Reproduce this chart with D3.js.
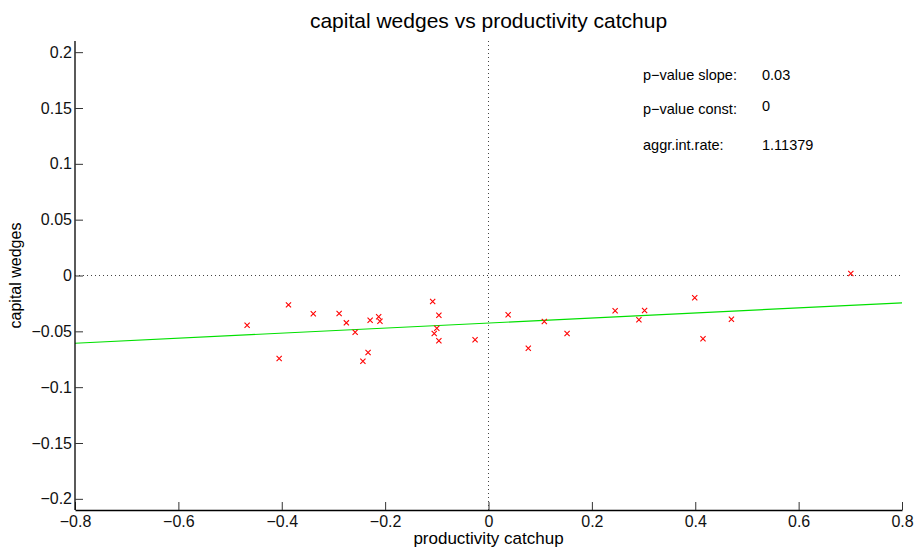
<!DOCTYPE html>
<html>
<head>
<meta charset="utf-8">
<script src="https://cdn.jsdelivr.net/npm/d3@7"></script>
<style>
  body { margin: 0; background: #fff; }
  text { font-family: "Liberation Sans", Arial, sans-serif; }
</style>
</head>
<body>
<script>
// data
var catchup = [-0.467, -0.405, -0.387, -0.339, -0.289, -0.275, -0.258, -0.243, -0.233, -0.229,
               -0.2125, -0.210, -0.108, -0.096, -0.100, -0.105, -0.096, -0.026, 0.038, 0.077,
               0.108, 0.152, 0.245, 0.302, 0.291, 0.399, 0.415, 0.470, 0.701];
var wedges  = [-0.0445, -0.0744, -0.0263, -0.0343, -0.0340, -0.0424, -0.0508, -0.0768, -0.0690, -0.0401,
               -0.0370, -0.0409, -0.0233, -0.0356, -0.0472, -0.0520, -0.0585, -0.0576, -0.0352, -0.0651,
               -0.0412, -0.0520, -0.0316, -0.0314, -0.0397, -0.0200, -0.0567, -0.0392, 0.0018];
var fitSlope = 0.0226, fitConst = -0.0426;
var xTicks = [-0.8, -0.6, -0.4, -0.2, 0, 0.2, 0.4, 0.6, 0.8];
var yTicks = [-0.2, -0.15, -0.1, -0.05, 0, 0.05, 0.1, 0.15, 0.2];
var statLabels = ["p\u2212value slope:", "p\u2212value const:", "aggr.int.rate:"];
var statValues = ["0.03", "0", "1.11379"];

var W = 916, H = 552;
var margin = {top: 41, right: 14, bottom: 42, left: 75},
    width = W - margin.left - margin.right,
    height = H - margin.top - margin.bottom;

var x = d3.scaleLinear().domain([-0.8, 0.8]).range([0, width]);
var y = d3.scaleLinear().domain([-0.21, 0.21]).range([height, 0]);

var svg = d3.select("body").append("svg")
    .attr("width", W).attr("height", H);
var g = svg.append("g")
    .attr("transform", "translate(" + margin.left + "," + margin.top + ")");

var fmt = function(d) { return d === 0 ? "0" : String(d).replace("-", "\u2212"); };

// zero reference lines
g.append("line")
  .attr("x1", x(0)).attr("x2", x(0)).attr("y1", 0).attr("y2", height)
  .attr("stroke", "#444").attr("stroke-dasharray", "1,3");
g.append("line")
  .attr("x1", 0).attr("x2", width).attr("y1", y(0)).attr("y2", y(0))
  .attr("stroke", "#444").attr("stroke-dasharray", "1,3");

// fitted line
g.append("line")
  .attr("x1", x(-0.8)).attr("y1", y(fitConst + fitSlope * -0.8))
  .attr("x2", x(0.8)).attr("y2", y(fitConst + fitSlope * 0.8))
  .attr("stroke", "#00e000").attr("stroke-width", 1.2);

// crosses
var pts = catchup.map(function(d, i) { return {x: d, y: wedges[i]}; });
var s = 2.6;
g.selectAll(".pt").data(pts).enter().append("path")
  .attr("class", "pt")
  .attr("d", function(d) {
    var cx = x(d.x), cy = y(d.y);
    return "M" + (cx - s) + "," + (cy - s) + "L" + (cx + s) + "," + (cy + s) +
           "M" + (cx - s) + "," + (cy + s) + "L" + (cx + s) + "," + (cy - s);
  })
  .attr("stroke", "#ff0000").attr("stroke-width", 1.1).attr("fill", "none");

// axes
var xAxis = g.append("g")
  .attr("transform", "translate(0," + height + ")")
  .call(d3.axisBottom(x).tickValues(xTicks).tickFormat(fmt)
    .tickSizeInner(-8).tickSizeOuter(0).tickPadding(6));
var yAxis = g.append("g")
  .call(d3.axisLeft(y).tickValues(yTicks).tickFormat(fmt)
    .tickSizeInner(-8).tickSizeOuter(0).tickPadding(3));

[xAxis, yAxis].forEach(function(a) {
  a.select(".domain").attr("stroke", "#000").attr("stroke-width", 1.3);
  a.selectAll(".tick line").attr("stroke", "#333");
  a.selectAll(".tick text").attr("font-size", 16).attr("fill", "#111")
    .style("font-family", "Liberation Sans, Arial, sans-serif");
});
// y axis line extends to the top of the plot
yAxis.select(".domain").attr("d", "M0," + height + "V0");

// title and axis labels
svg.append("text")
  .attr("x", margin.left + width / 2).attr("y", 28)
  .attr("text-anchor", "middle").attr("font-size", 21).attr("fill", "#000")
  .text("capital wedges vs productivity catchup");
svg.append("text")
  .attr("x", margin.left + x(0)).attr("y", 544)
  .attr("text-anchor", "middle").attr("font-size", 17).attr("fill", "#000")
  .text("productivity catchup");
svg.append("text")
  .attr("transform", "translate(21," + (margin.top + y(0)) + ") rotate(-90)")
  .attr("text-anchor", "middle").attr("font-size", 16).attr("fill", "#000")
  .text("capital wedges");

// statistics box text
var statY = [80, 114, 150];
var valY = [80, 111, 150];
statLabels.forEach(function(t, i) {
  svg.append("text").attr("x", 643).attr("y", statY[i])
    .attr("font-size", 14.5).attr("fill", "#000").text(t);
  svg.append("text").attr("x", 762).attr("y", valY[i])
    .attr("font-size", 14.5).attr("fill", "#000").text(statValues[i]);
});
</script>
</body>
</html>
